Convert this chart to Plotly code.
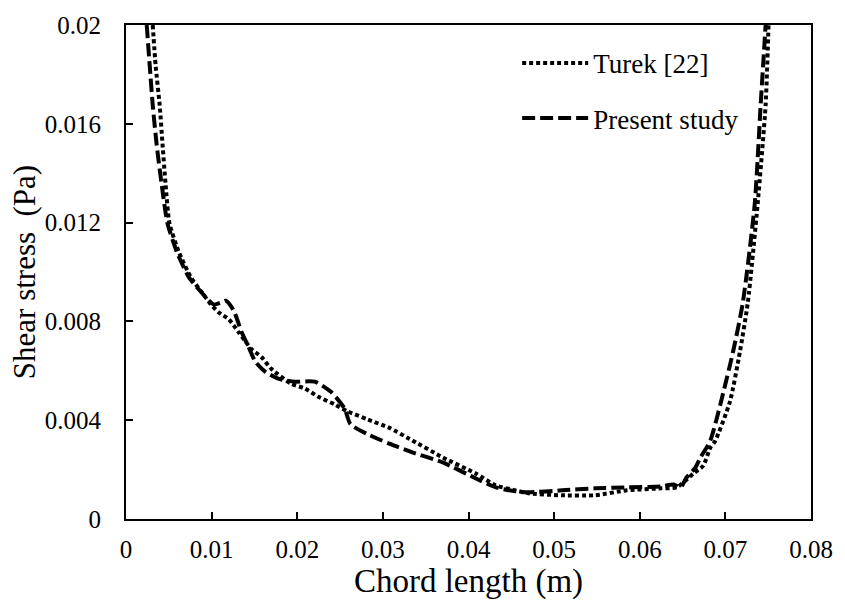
import plotly.graph_objects as go

# Present study (dashed)
present_x = [0.00242, 0.00277, 0.00312, 0.00358, 0.00416, 0.00485, 0.0060, 0.00739, 0.00854, 0.0097,
             0.01027, 0.01108, 0.01166, 0.01258, 0.01351, 0.01432, 0.01512, 0.01628, 0.01778, 0.01974,
             0.02205, 0.0239, 0.02551, 0.02621, 0.02817, 0.03082, 0.0336, 0.03706, 0.04087, 0.04318,
             0.04549, 0.04699, 0.05091, 0.05472, 0.05853, 0.06246, 0.06396, 0.06477, 0.06546, 0.0665,
             0.06708, 0.06823, 0.0695, 0.07089, 0.07204, 0.07343, 0.07412, 0.0747]
present_y = [0.02, 0.01836, 0.01676, 0.01516, 0.01356, 0.01196, 0.01076, 0.00976, 0.00928, 0.00884,
             0.00868, 0.00876, 0.00884, 0.00844, 0.00756, 0.00696, 0.00636, 0.00596, 0.00568, 0.00556,
             0.00556, 0.00516, 0.00448, 0.00384, 0.00344, 0.00304, 0.00268, 0.00228, 0.00164, 0.00128,
             0.00112, 0.00108, 0.00116, 0.00124, 0.00128, 0.00132, 0.0014, 0.00128, 0.00168, 0.00208,
             0.00248, 0.00316, 0.00476, 0.00676, 0.00876, 0.01276, 0.01676, 0.02]

# Turek [22] (dotted)
turek_x = [0.00312, 0.00346, 0.00393, 0.00427, 0.00462, 0.00508, 0.00623, 0.00762, 0.00889, 0.00993,
           0.01085, 0.01201, 0.01316, 0.01466, 0.01582, 0.01697, 0.01928, 0.0209, 0.0224, 0.02436,
           0.02586, 0.02817, 0.03082, 0.03313, 0.03706, 0.04087, 0.04318, 0.04549, 0.04699, 0.05091,
           0.05472, 0.05853, 0.06246, 0.0643, 0.06627, 0.06742, 0.06823, 0.06881, 0.07054, 0.07169,
           0.07262, 0.07377, 0.0747, 0.07504]
turek_y = [0.02, 0.01836, 0.01676, 0.01516, 0.01356, 0.01196, 0.01076, 0.00976, 0.00916, 0.00868,
           0.00836, 0.00808, 0.00756, 0.00688, 0.00656, 0.00608, 0.00548, 0.00528, 0.00496, 0.00464,
           0.00436, 0.00404, 0.00368, 0.00324, 0.00248, 0.00184, 0.00136, 0.00116, 0.00104, 0.00096,
           0.00096, 0.00116, 0.00124, 0.00128, 0.00184, 0.00216, 0.00288, 0.00316, 0.00476, 0.00676,
           0.00876, 0.01276, 0.01676, 0.02]

x_tickvals = [0, 0.01, 0.02, 0.03, 0.04, 0.05, 0.06, 0.07, 0.08]
x_ticktext = ["0", "0.01", "0.02", "0.03", "0.04", "0.05", "0.06", "0.07", "0.08"]
y_tickvals = [0, 0.004, 0.008, 0.012, 0.016, 0.02]
y_ticktext = ["0", "0.004", "0.008", "0.012", "0.016", "0.02"]

FONT = "'Liberation Serif', 'Times New Roman', serif"

fig = go.Figure()
fig.add_trace(go.Scatter(
    x=turek_x, y=turek_y, mode="lines", name="Turek [22]", legendgroup="a",
    line=dict(color="black", width=4, dash="4px,3px", shape="spline", smoothing=0.6),
))
fig.add_trace(go.Scatter(
    x=present_x, y=present_y, mode="lines", name="Present study", legendgroup="b",
    line=dict(color="black", width=4, dash="13px,5px", shape="spline", smoothing=0.6),
))

fig.update_layout(
    width=845, height=606,
    margin=dict(l=126, r=26, t=19, b=87),
    plot_bgcolor="white", paper_bgcolor="white",
    font=dict(family=FONT, color="black", size=25),
    showlegend=True,
    legend=dict(
        x=0.571, y=0.972, xanchor="left", yanchor="top",
        font=dict(family=FONT, size=27, color="black"),
        bgcolor="rgba(0,0,0,0)", traceorder="grouped", tracegroupgap=17,
        itemwidth=66,
    ),
    xaxis=dict(
        range=[0, 0.08], tickvals=x_tickvals, ticktext=x_ticktext,
        showgrid=False, zeroline=False,
        showline=True, linecolor="black", linewidth=2, mirror=True,
        ticks="inside", ticklen=7, tickwidth=1.5, tickcolor="black",
        tickfont=dict(family=FONT, size=25, color="black"),
        ticklabelstandoff=7,
        title=dict(text="Chord length (m)", font=dict(family=FONT, size=33, color="black"), standoff=4),
    ),
    yaxis=dict(
        range=[0, 0.02], tickvals=y_tickvals, ticktext=y_ticktext,
        showgrid=False, zeroline=False,
        showline=True, linecolor="black", linewidth=2, mirror=True,
        ticks="inside", ticklen=7, tickwidth=1.5, tickcolor="black",
        tickfont=dict(family=FONT, size=25, color="black"),
        ticklabelstandoff=18,
        title=dict(text="Shear stress  (Pa)", font=dict(family=FONT, size=31, color="black"), standoff=0),
    ),
)

fig.write_html("out.html")
